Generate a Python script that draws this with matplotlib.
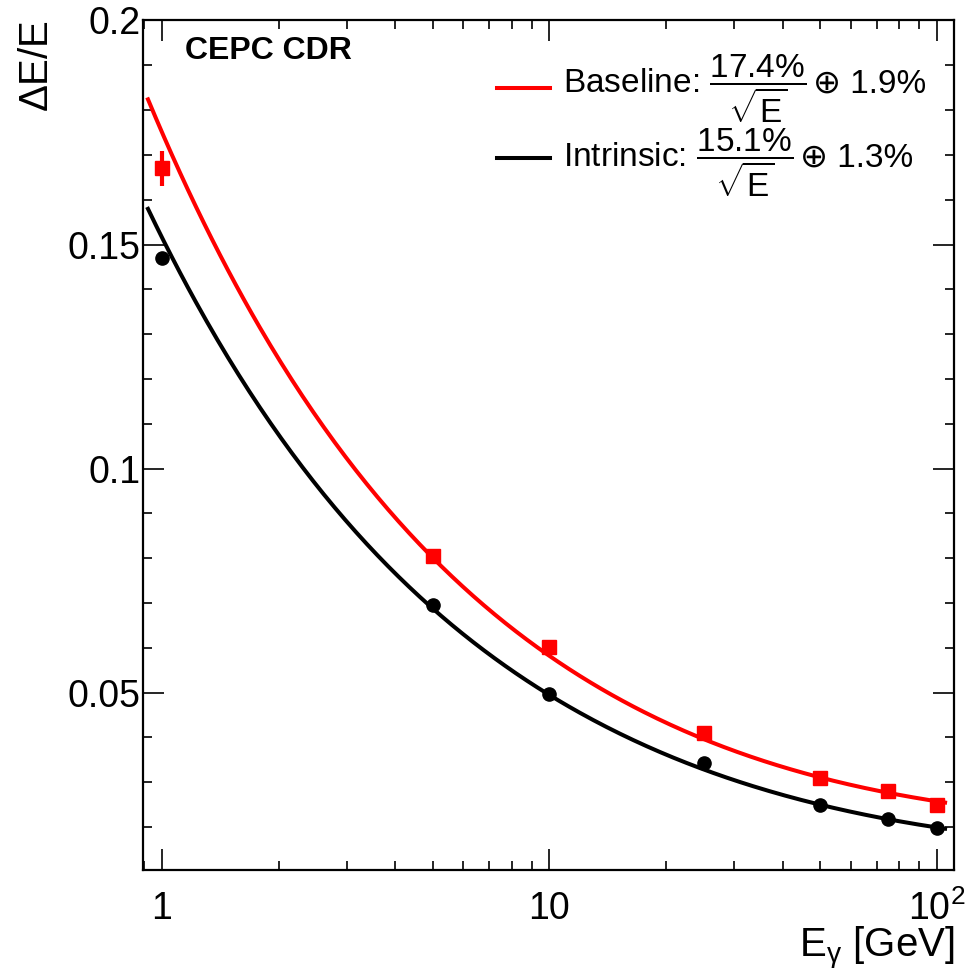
import numpy as np
import matplotlib
matplotlib.use("Agg")
import matplotlib.pyplot as plt
from matplotlib.ticker import FixedLocator, FixedFormatter, LogLocator, MultipleLocator, NullFormatter
from matplotlib.lines import Line2D

plt.rcParams["font.family"] = ["Liberation Sans", "DejaVu Sans"]
plt.rcParams["mathtext.fontset"] = "custom"
plt.rcParams["mathtext.rm"] = "Liberation Sans"
plt.rcParams["mathtext.it"] = "Liberation Sans:italic"
plt.rcParams["mathtext.bf"] = "Liberation Sans:bold"

# photon energies [GeV] and measured resolutions
energy = [1, 5, 10, 25, 50, 75, 100]
baseline_res = [0.167, 0.0805, 0.0603, 0.0409, 0.0310, 0.0281, 0.0250]
baseline_err = [0.0039, 0.0008, 0.0008, 0.0006, 0.0004, 0.0004, 0.0004]
intrinsic_res = [0.147, 0.0695, 0.0496, 0.0342, 0.0250, 0.0218, 0.0198]
intrinsic_err = [0.0012, 0.0005, 0.0005, 0.0004, 0.0003, 0.0003, 0.0003]

# fit parameters: stochastic term (a) and constant term (b)
baseline_fit = (0.174, 0.019)
intrinsic_fit = (0.151, 0.013)
fit_range = (0.92, 105)

series = [
    ("Baseline", "#ff0000", "17.4%", "1.9%"),
    ("Intrinsic", "black", "15.1%", "1.3%"),
]


def resolution(e, a, b):
    return np.sqrt((a / np.sqrt(e)) ** 2 + b ** 2)


W, H = 966, 975
fig = plt.figure(figsize=(W / 100, H / 100), dpi=100)
fig.patch.set_facecolor("white")
ax = fig.add_axes([0.148, 0.108, 0.840, 0.871])

e_fit = np.logspace(np.log10(fit_range[0]), np.log10(fit_range[1]), 300)
ax.plot(e_fit, resolution(e_fit, *baseline_fit), color="#ff0000", lw=2.9, zorder=2)
ax.plot(e_fit, resolution(e_fit, *intrinsic_fit), color="black", lw=2.9, zorder=2)

ax.errorbar(energy, baseline_res, yerr=baseline_err, fmt="s", color="#ff0000",
            ms=10, elinewidth=3, capsize=0, zorder=3)
ax.errorbar(energy, intrinsic_res, yerr=intrinsic_err, fmt="o", color="black",
            ms=9.5, elinewidth=2, capsize=0, zorder=3)

ax.set_xscale("log")
ax.set_xlim(0.893, 111)
ax.set_ylim(0.0105, 0.2)

ax.xaxis.set_major_locator(FixedLocator([1, 10, 100]))
ax.xaxis.set_major_formatter(FixedFormatter(["1", "10", r"$10^{2}$"]))
ax.xaxis.set_minor_locator(LogLocator(base=10, subs=np.arange(2, 10)))
ax.xaxis.set_minor_formatter(NullFormatter())
ax.yaxis.set_major_locator(FixedLocator([0.05, 0.1, 0.15, 0.2]))
ax.yaxis.set_major_formatter(FixedFormatter(["0.05", "0.1", "0.15", "0.2"]))
ax.yaxis.set_minor_locator(MultipleLocator(0.01))

ax.tick_params(which="both", direction="in", top=True, right=True, width=1.2, colors="black")
ax.tick_params(which="major", length=15, labelsize=27)
ax.tick_params(which="minor", length=6.5)
ax.tick_params(axis="y", which="major", pad=2)
ax.tick_params(axis="x", which="major", pad=15)
for s in ax.spines.values():
    s.set_linewidth(1.6)

ax.set_ylabel(r"$\Delta$E/E", fontsize=29, loc="top", labelpad=8)
ax.set_xlabel(r"E$_{\mathrm{\gamma}}$ [GeV]", fontsize=29, loc="right", labelpad=-2)

ax.text(0.052, 0.982, "CEPC CDR", transform=ax.transAxes, fontsize=23,
        fontweight="bold", va="top", ha="left")

# hand-built legend (line sample, label with fraction, then "⊕ const")
legend_rows = [(88, 93), (158, 167)]  # (line y, text baseline) in pixels from top
for (name, color, stoch, const), (ly, by) in zip(series, legend_rows):
    fig.add_artist(Line2D([497 / W, 550 / W], [1 - ly / H, 1 - ly / H],
                          transform=fig.transFigure, color=color, lw=2.9))
    lab = fig.text(563 / W, 1 - by / H,
                   rf"{name}: $\dfrac{{{stoch.replace('%', r'\%')}}}{{\sqrt{{\mathrm{{E}}}}}}$",
                   fontsize=24, va="baseline", ha="left")
    ax.annotate(f"⊕ {const}", xy=(1, 1 - by / H), xycoords=(lab, "figure fraction"),
                xytext=(5, 0), textcoords="offset points", fontsize=24,
                va="baseline", ha="left", annotation_clip=False)

fig.savefig("out.png", dpi=100, facecolor="white")
